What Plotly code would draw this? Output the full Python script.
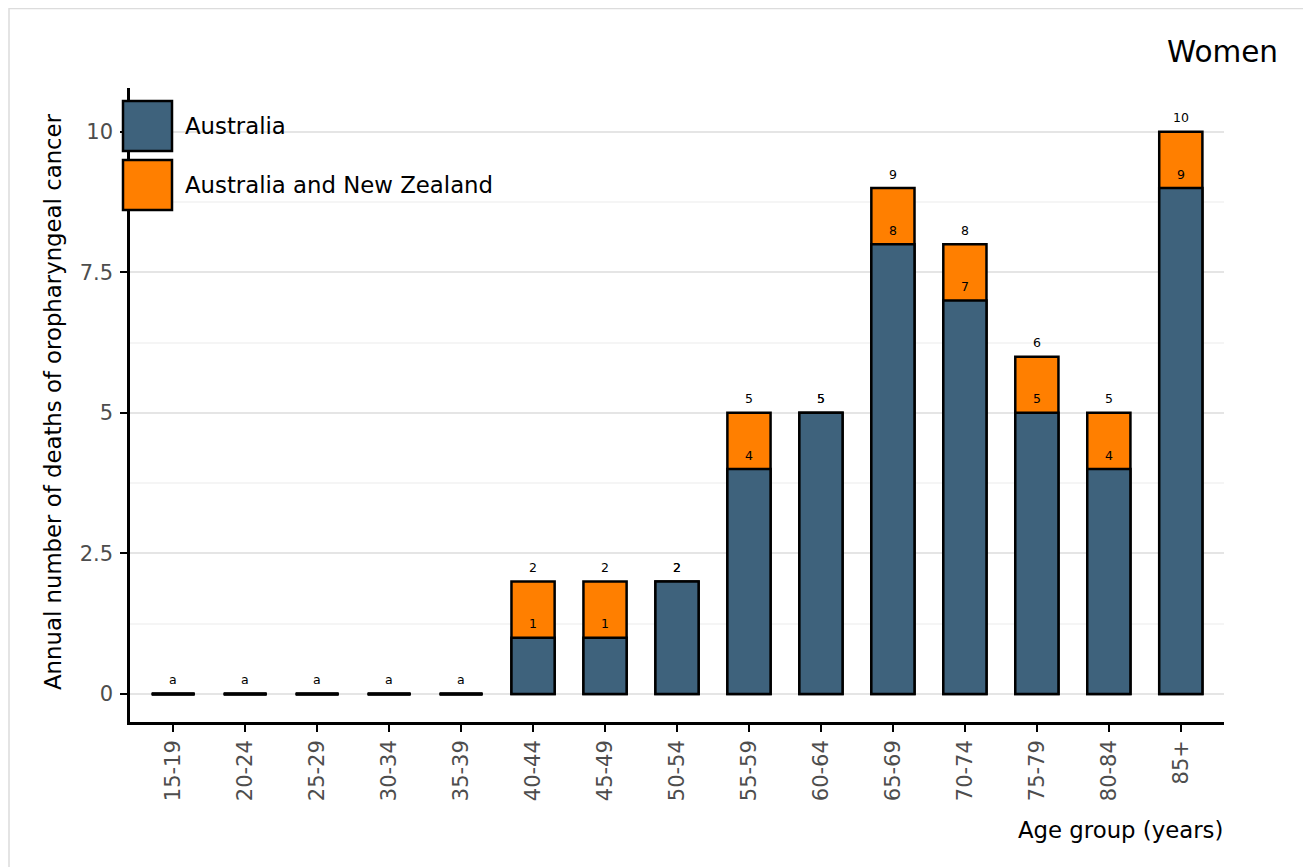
import plotly.graph_objects as go

age_groups = ["15-19", "20-24", "25-29", "30-34", "35-39", "40-44", "45-49", "50-54",
              "55-59", "60-64", "65-69", "70-74", "75-79", "80-84", "85+"]
australia = [0, 0, 0, 0, 0, 1, 1, 2, 4, 5, 8, 7, 5, 4, 9]
aus_nz = [0, 0, 0, 0, 0, 2, 2, 2, 5, 5, 9, 8, 6, 5, 10]
y_ticks = [0, 2.5, 5, 7.5, 10]
y_tick_labels = ["0", "2.5", "5", "7.5", "10"]

BLUE = "#3e627c"
ORANGE = "#ff7f00"
FONT = "DejaVu Sans"

OFF = 8  # page body margin
W, H = 1311, 867
L, R, T, B = 122, 95, 80, 153
PW, PH = W - L - R, H - T - B


def px(x):
    return (x - OFF - L) / PW


def py(y):
    return (H - B - (y - OFF)) / PH


fig = go.Figure()
fig.add_trace(go.Bar(x=age_groups, y=aus_nz, name="Australia and New Zealand",
                     marker=dict(color=ORANGE, line=dict(color="black", width=2.5)),
                     width=0.6, showlegend=False))
fig.add_trace(go.Bar(x=age_groups, y=australia, name="Australia",
                     marker=dict(color=BLUE, line=dict(color="black", width=2.5)),
                     width=0.6, showlegend=False))

zero_x = [g for g, v in zip(age_groups, aus_nz) if v == 0]
zero_y = [v for v in aus_nz if v == 0]
fig.add_trace(go.Scatter(x=zero_x, y=zero_y, mode="markers",
                         marker=dict(symbol="line-ew", size=30.5,
                                     line=dict(color="black", width=3.5)),
                         showlegend=False, hoverinfo="skip"))

annotations = []
for g, v in zip(age_groups, aus_nz):
    annotations.append(dict(x=g, y=v, text=str(v) if v > 0 else "a", showarrow=False,
                            yshift=14, yanchor="middle", xanchor="center",
                            font=dict(family=FONT, size=12.5, color="black")))
for g, v in zip(age_groups, australia):
    if v > 0:
        annotations.append(dict(x=g, y=v, text=str(v), showarrow=False,
                                yshift=14, yanchor="middle", xanchor="center",
                                font=dict(family=FONT, size=12.5, color="black")))

# titles
annotations.append(dict(xref="paper", yref="paper", x=px(1280), y=py(52), text="Women",
                        showarrow=False, xanchor="right", yanchor="middle",
                        font=dict(family=FONT, size=29.5, color="black")))
annotations.append(dict(xref="paper", yref="paper", x=px(1225), y=py(830),
                        text="Age group (years)", showarrow=False, xanchor="right",
                        yanchor="middle", font=dict(family=FONT, size=22.8, color="black")))
annotations.append(dict(xref="paper", yref="paper", x=px(53), y=py(402),
                        text="Annual number of deaths of oropharyngeal cancer",
                        showarrow=False, textangle=-90, xanchor="center", yanchor="middle",
                        font=dict(family=FONT, size=22.8, color="black")))
# legend
legend_items = [("Australia", BLUE), ("Australia and New Zealand", ORANGE)]
shapes = []
for i, (name, col) in enumerate(legend_items):
    top = 101 + i * 59
    shapes.append(dict(type="rect", xref="paper", yref="paper",
                       x0=px(123), x1=px(172), y0=py(top + 50), y1=py(top),
                       fillcolor=col, line=dict(color="black", width=2.5), layer="above"))
    annotations.append(dict(xref="paper", yref="paper", x=px(183), y=py(top + 25),
                            text=name, showarrow=False, xanchor="left", yanchor="middle",
                            font=dict(family=FONT, size=22.8, color="black")))
# outer frame
shapes.append(dict(type="rect", xref="paper", yref="paper",
                   x0=px(9), x1=px(1340), y0=py(900), y1=py(8.5),
                   line=dict(color="#dcdcdc", width=1.5), fillcolor="rgba(0,0,0,0)",
                   layer="below"))

fig.update_layout(
    width=W, height=H,
    margin=dict(l=L, r=R, t=T, b=B, pad=0),
    paper_bgcolor="white", plot_bgcolor="white",
    barmode="overlay", bargap=0.4,
    font=dict(family=FONT, color="black"),
    annotations=annotations, shapes=shapes,
    showlegend=False,
)
fig.update_xaxes(
    range=[-0.6, 14.6], showline=True, linecolor="black", linewidth=2.5,
    ticks="outside", ticklen=7, tickwidth=2, tickcolor="black",
    tickangle=-90, tickfont=dict(family=FONT, size=21, color="#4d4d4d"),
    showgrid=False, zeroline=False, fixedrange=True,
)
fig.update_yaxes(
    range=[-0.5, 10.78], showline=True, linecolor="black", linewidth=2.5,
    tickvals=y_ticks, ticktext=y_tick_labels,
    ticks="outside", ticklen=7, tickwidth=2, tickcolor="black",
    ticklabelstandoff=3,
    tickfont=dict(family=FONT, size=21, color="#4d4d4d"),
    showgrid=True, gridcolor="#e5e5e5", gridwidth=2, zeroline=False,
    minor=dict(tickvals=[1.25, 3.75, 6.25, 8.75], showgrid=True,
               gridcolor="#f5f5f5", gridwidth=1.5, ticks=""),
)

fig.write_html("out.html")
